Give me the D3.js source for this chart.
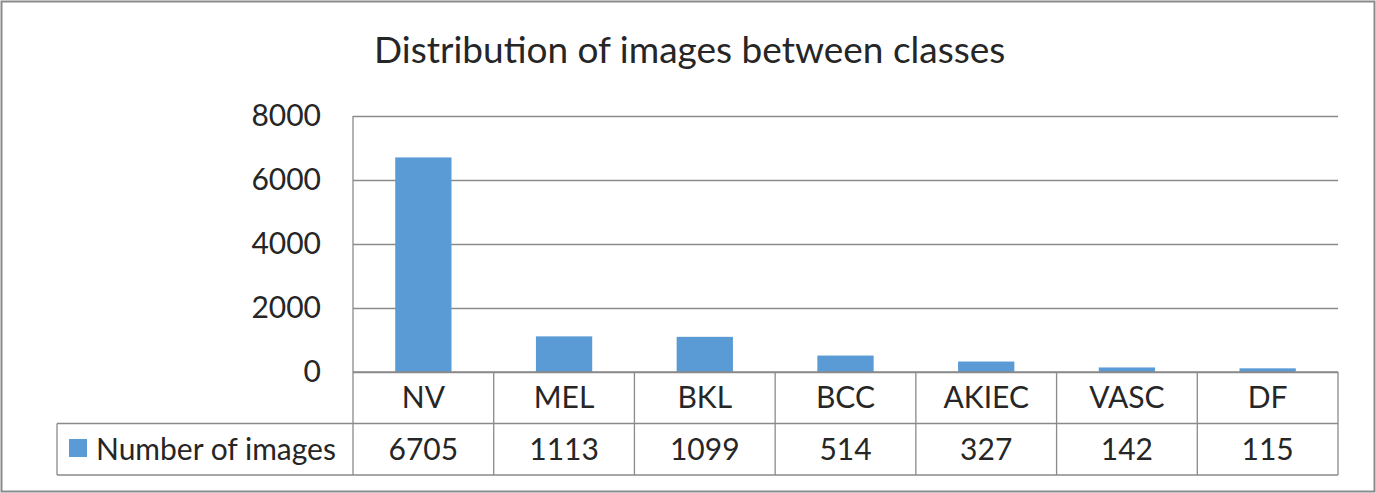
<!doctype html>
<html>
<head>
<meta charset="utf-8">
<title>Distribution of images between classes</title>
<script src="https://d3js.org/d3.v7.min.js"></script>
<style>
  body { margin: 0; background: #fff; }
  text { font-family: Lato, "Open Sans", sans-serif; fill: #262626; }
</style>
</head>
<body>
<svg class="chart"></svg>
<script>
    // data
    var categories = ["NV", "MEL", "BKL", "BCC", "AKIEC", "VASC", "DF"];
    var counts = [6705, 1113, 1099, 514, 327, 142, 115];
    var seriesName = "Number of images";
    var yTicks = [0, 2000, 4000, 6000, 8000];
    var chartTitle = "Distribution of images between classes";

    var width = 1376,
        height = 493,
        plot = {left: 353, right: 1338, top: 116, bottom: 372},
        rowH = 51.5,
        tableLeft = 57,
        fontSize = "30px",
        lineColor = "#8a8a8a",
        barColor = "#5b9bd5";

    var svg = d3.select(".chart")
        .attr("width", width)
        .attr("height", height);

    // outer chart border
    svg.append("rect")
        .attr("x", 1.5).attr("y", 1.5)
        .attr("width", width - 3).attr("height", height - 3)
        .attr("fill", "none")
        .attr("stroke", lineColor)
        .attr("stroke-width", 2);

    svg.append("text")
        .attr("x", 374)
        .attr("y", 63)
        .style("font-size", "37px")
        .text(chartTitle);

    var x = d3.scaleBand()
        .domain(categories)
        .range([plot.left, plot.right])
        .paddingInner(0.6)
        .paddingOuter(0.3);

    var band = d3.scaleBand()
        .domain(categories)
        .range([plot.left, plot.right]);

    var y = d3.scaleLinear()
        .domain([0, 8000])
        .range([plot.bottom, plot.top]);

    // gridlines + tick labels
    var yAxis = svg.append("g")
        .attr("transform", `translate(${plot.left},0)`)
        .call(d3.axisLeft(y).tickValues(yTicks)
            .tickSize(-(plot.right - plot.left))
            .tickPadding(32)
            .tickFormat(d3.format("d")));
    yAxis.select(".domain").remove();
    yAxis.selectAll(".tick line")
        .attr("stroke", lineColor)
        .attr("stroke-width", 1.3);
    yAxis.selectAll(".tick text")
        .style("font-size", fontSize)
        .style("font-family", "Lato, sans-serif")
        .attr("fill", "#262626");

    // bars
    svg.append("g").selectAll("rect")
        .data(counts)
        .enter()
        .append("rect")
        .attr("x", (d, i) => x(categories[i]))
        .attr("y", d => y(d))
        .attr("width", x.bandwidth())
        .attr("height", d => y(0) - y(d))
        .attr("fill", barColor);

    // data table
    var table = svg.append("g")
        .attr("stroke", lineColor)
        .attr("stroke-width", 1.3);
    var r1 = plot.bottom, r2 = plot.bottom + rowH, r3 = plot.bottom + 2 * rowH;
    table.append("line").attr("x1", plot.left).attr("x2", plot.right).attr("y1", r1).attr("y2", r1);
    table.append("line").attr("x1", tableLeft).attr("x2", plot.right).attr("y1", r2).attr("y2", r2);
    table.append("line").attr("x1", tableLeft).attr("x2", plot.right).attr("y1", r3).attr("y2", r3);
    table.append("line").attr("x1", tableLeft).attr("x2", tableLeft).attr("y1", r2).attr("y2", r3);
    // left axis line runs down through the table
    table.append("line").attr("x1", plot.left).attr("x2", plot.left).attr("y1", plot.top).attr("y2", r3);
    table.selectAll(".sep")
        .data(categories)
        .enter()
        .append("line")
        .attr("class", "sep")
        .attr("x1", d => band(d) + band.bandwidth())
        .attr("x2", d => band(d) + band.bandwidth())
        .attr("y1", r1)
        .attr("y2", r3);

    svg.append("g").selectAll("text")
        .data(categories)
        .enter()
        .append("text")
        .attr("x", d => band(d) + band.bandwidth() / 2)
        .attr("y", r1 + 36)
        .attr("text-anchor", "middle")
        .style("font-size", fontSize)
        .text(d => d);

    svg.append("g").selectAll("text")
        .data(counts)
        .enter()
        .append("text")
        .attr("x", (d, i) => band(categories[i]) + band.bandwidth() / 2)
        .attr("y", r2 + 36)
        .attr("text-anchor", "middle")
        .style("font-size", fontSize)
        .text(d => d);

    // legend key in the table
    svg.append("rect")
        .attr("x", 69).attr("y", 439)
        .attr("width", 18).attr("height", 18)
        .attr("fill", barColor);
    svg.append("text")
        .attr("x", 96)
        .attr("y", r2 + 36)
        .style("font-size", fontSize)
        .text(seriesName);
</script>
</body>
</html>
